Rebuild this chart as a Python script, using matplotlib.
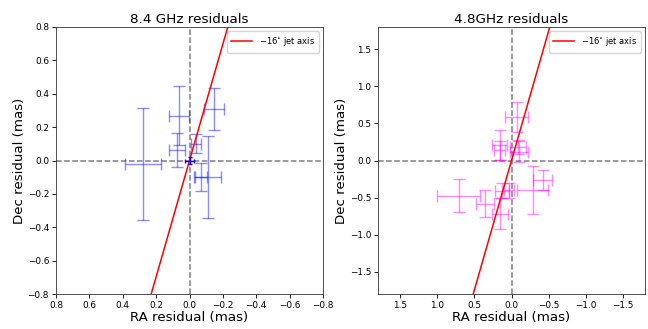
#%% IMPORTS               ~~~~~~~~~~~~~~~~~~~~~~~~~~~~~~~~~~~~~~~~~~~~
import matplotlib
matplotlib.use('Agg')
import matplotlib.pyplot as plt
import numpy as np

#%% DATA               ~~~~~~~~~~~~~~~~~~~~~~~~~~~~~~~~~~~~~~~~~~~~
# 8.4 GHz residuals (mas)
ra_84 = [0.276, 0.064, 0.074, -0.040, -0.146, -0.070, -0.108]
dec_84 = [-0.022, 0.269, 0.064, 0.101, 0.308, -0.098, -0.100]
ra_err_84 = [0.108, 0.059, 0.048, 0.030, 0.060, 0.036, 0.080]
dec_err_84 = [0.335, 0.179, 0.100, 0.059, 0.127, 0.085, 0.244]

# reference epoch at origin
ref_84 = [0.0, 0.0, 0.025, 0.02]

# 4.8 GHz residuals (mas)
ra_48 = [0.71, 0.362, 0.15, 0.13, 0.03, -0.286, -0.42, -0.071, 0.16, 0.16, -0.09, -0.10]
dec_48 = [-0.473, -0.585, -0.72, -0.41, -0.40, -0.397, -0.268, 0.585, 0.205, 0.138, 0.18, 0.12]
ra_err_48 = [0.29, 0.12, 0.107, 0.09, 0.07, 0.208, 0.127, 0.154, 0.105, 0.075, 0.11, 0.12]
dec_err_48 = [0.228, 0.183, 0.21, 0.10, 0.10, 0.324, 0.136, 0.20, 0.20, 0.125, 0.09, 0.14]

jet_pa = -16.0  # degrees

#%% FUNCTIONS               ~~~~~~~~~~~~~~~~~~~~~~~~~~~~~~~~~~~~~~~~~~~~
def draw_panel(ax, ra, dec, ra_err, dec_err, color, lim, ticks, title):
    ax.axhline(0, color='gray', ls='--', lw=1.1, zorder=1)
    ax.axvline(0, color='gray', ls='--', lw=1.1, zorder=1)

    ax.errorbar(ra, dec, xerr=ra_err, yerr=dec_err, fmt='none',
                ecolor=color, alpha=0.45, elinewidth=1.0, capsize=4, capthick=1.0)

    # jet axis line through origin
    yy = np.array([-2 * lim, 2 * lim])
    xx = yy * np.tan(np.radians(jet_pa))
    ax.plot(xx, yy, color='red', lw=1.1, label=r'$-16^{\circ}$ jet axis')

    ax.set_xlim(lim, -lim)
    ax.set_ylim(-lim, lim)
    ax.set_xticks(ticks)
    ax.set_yticks(ticks)
    ax.tick_params(labelsize=6.4, width=0.6, length=3, pad=2)
    for sp in ax.spines.values():
        sp.set_linewidth(0.6)
        sp.set_color('#333333')

    ax.set_title(title, fontsize=9.7, pad=3)
    ax.set_xlabel('RA residual (mas)', fontsize=9.6, labelpad=1)
    ax.set_ylabel('Dec residual (mas)', fontsize=9.6, labelpad=1)
    ax.legend(loc='upper right', fontsize=6, handlelength=2.5, borderpad=0.5)
#

#%% PLOT               ~~~~~~~~~~~~~~~~~~~~~~~~~~~~~~~~~~~~~~~~~~~~
fig = plt.figure(figsize=(6.48, 3.29), dpi=100)
ax1 = fig.add_axes([56 / 648, 35 / 329, 267 / 648, 267 / 329])
ax2 = fig.add_axes([378 / 648, 35 / 329, 267 / 648, 267 / 329])

draw_panel(ax1, ra_84, dec_84, ra_err_84, dec_err_84, 'blue', 0.8,
           np.round(np.arange(-0.8, 0.81, 0.2), 1), '8.4 GHz residuals')
ax1.errorbar([ref_84[0]], [ref_84[1]], xerr=[ref_84[2]], yerr=[ref_84[3]],
             fmt='none', ecolor='blue', elinewidth=1.0, capsize=1.5, zorder=3)

draw_panel(ax2, ra_48, dec_48, ra_err_48, dec_err_48, 'magenta', 1.8,
           np.arange(-1.5, 1.51, 0.5), '4.8GHz residuals')

fig.savefig('out.png', dpi=100)
